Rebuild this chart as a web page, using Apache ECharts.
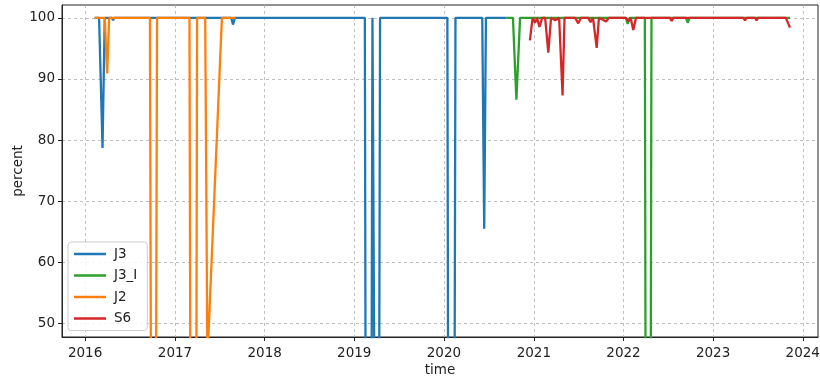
<!DOCTYPE html>
<html>
<head>
<meta charset="utf-8">
<script src="https://cdn.jsdelivr.net/npm/echarts@6/dist/echarts.min.js"></script>
<style>
html,body{margin:0;padding:0;background:#fff;}
#chart{width:820px;height:378px;}
</style>
</head>
<body>
<div id="chart"></div>
<script>
// ---- data ----
const seriesNames = ["J3", "J3_I", "J2", "S6"];

const j3Dates = ["2016-02-09","2016-02-27","2016-03-12","2016-03-21","2016-04-19","2016-04-24","2016-04-29",
  "2017-08-18","2017-08-25","2017-09-02",
  "2019-02-13","2019-02-18","2019-03-10","2019-03-16","2019-03-23","2019-03-29","2019-04-10","2019-04-16",
  "2020-01-15","2020-01-20","2020-02-11","2020-02-17",
  "2020-06-05","2020-06-13","2020-06-20","2020-09-12"];
const j3Values = [100,100,78.7,100,100,99.6,100,
  100,98.9,100,
  100,0,0,100,100,0,0,100,
  100,0,0,100,
  100,65.5,100,100];

const j3iDates = ["2020-09-12","2020-10-08","2020-10-22","2020-11-06",
  "2022-01-11","2022-01-18","2022-01-26",
  "2022-03-29","2022-04-03","2022-04-20","2022-04-25",
  "2022-09-12","2022-09-20","2022-09-27","2023-11-10"];
const j3iValues = [100,100,86.6,100,
  100,99.0,100,
  100,0,0,100,
  100,99.2,100,100];

const j2Dates = ["2016-02-09","2016-03-21","2016-03-31","2016-04-08",
  "2016-09-21","2016-09-28","2016-10-13","2016-10-20",
  "2017-03-01","2017-03-07","2017-03-27","2017-04-01",
  "2017-05-04","2017-05-13","2017-07-11","2017-09-05"];
const j2Values = [100,100,90.9,100,
  100,0,0,100,
  100,0,0,100,
  100,44,100,100];

const s6Dates = ["2020-12-16","2020-12-27","2021-01-06","2021-01-14","2021-01-24","2021-02-04",
  "2021-02-16","2021-03-01","2021-03-12","2021-03-29","2021-04-14","2021-04-20","2021-04-28","2021-05-06",
  "2021-06-18","2021-07-01","2021-07-12","2021-08-10","2021-08-20","2021-08-30","2021-09-05","2021-09-14",
  "2021-09-23","2021-10-22","2021-11-03","2022-01-11","2022-01-21","2022-01-30","2022-02-10","2022-02-21",
  "2022-07-09","2022-07-16","2022-07-23","2022-11-14","2022-11-21","2022-11-28",
  "2023-05-04","2023-05-11","2023-05-17","2023-06-21","2023-06-27","2023-07-03","2023-10-24","2023-11-10"];
const s6Values = [96.3,100,99.2,100,98.5,100,
  100,94.3,100,99.6,100,100,87.3,100,
  100,99.1,100,100,99.3,100,100,95.1,
  100,99.4,100,100,99.4,100,98.0,100,
  100,99.5,100,100,99.7,100,
  100,99.6,100,100,99.6,100,100,98.4];

const xTickLabels = ["2016","2017","2018","2019","2020","2021","2022","2023","2024"];
const yTickValues = [50,60,70,80,90,100];

const colors = ["#1f77b4","#2ca02c","#ff7f0e","#d62728"];
const xMin = "2015-09-29", xMax = "2024-03-03";
const yMin = 47.8, yMax = 102.1;

// ---- build ----
function ts(s){ return new Date(s + "T00:00:00Z").getTime(); }
function pairs(d, v){ return d.map((x,i)=>[ts(x), v[i]]); }
const allData = [pairs(j3Dates,j3Values), pairs(j3iDates,j3iValues), pairs(j2Dates,j2Values), pairs(s6Dates,s6Values)];
const xTickValues = xTickLabels.map(y => ts(y + "-01-01"));

const font = "DejaVu Sans";
const chart = echarts.init(document.getElementById('chart'), null, {renderer:'canvas'});
chart.setOption({
  animation:false,
  backgroundColor:'#fff',
  grid:{left:62, right:2, top:5, bottom:41, show:true, borderColor:'#222', borderWidth:1,
        containLabel:false, outerBoundsMode:'none'},
  legend:{
    orient:'vertical', left:68, top:242,
    data:seriesNames,
    icon:'rect', itemWidth:32, itemHeight:2.5, itemGap:7.5,
    padding:[5,10,5,6],
    backgroundColor:'rgba(255,255,255,0.85)', borderColor:'#cccccc', borderWidth:1, borderRadius:3,
    textStyle:{fontFamily:font, fontSize:13.5, color:'#222', padding:[0,0,0,3]}
  },
  xAxis:{
    type:'value', min:ts(xMin), max:ts(xMax),
    name:'time', nameLocation:'middle', nameGap:26, nameMoveOverlap:false,
    nameTextStyle:{fontFamily:font, fontSize:13.5, color:'#222'},
    axisLine:{onZero:false, lineStyle:{color:'#222', width:1}},
    axisTick:{show:true, length:4, inside:false, customValues:xTickValues, lineStyle:{color:'#222'}},
    axisLabel:{customValues:xTickValues, fontFamily:font, fontSize:13.5, color:'#222', margin:9,
      formatter:function(v){ return String(new Date(v).getUTCFullYear()); }},
    splitLine:{show:true, lineStyle:{color:'#b0b0b0', type:[3,3], width:0.8}}
  },
  yAxis:{
    type:'value', min:yMin, max:yMax,
    name:'percent', nameLocation:'middle', nameGap:37, nameRotate:90, nameMoveOverlap:false,
    nameTextStyle:{fontFamily:font, fontSize:13.5, color:'#222'},
    axisLine:{show:true, lineStyle:{color:'#222', width:1}},
    axisTick:{show:true, length:4, customValues:yTickValues, lineStyle:{color:'#222'}},
    axisLabel:{customValues:yTickValues, fontFamily:font, fontSize:13.5, color:'#222', margin:7},
    splitLine:{show:true, lineStyle:{color:'#b0b0b0', type:[3,3], width:0.8}}
  },
  series: seriesNames.map((n,i)=>({
    name:n, type:'line', data:allData[i], symbol:'none', showSymbol:false,
    clip:true, color:colors[i],
    lineStyle:{width:2.3, color:colors[i]}, z:2+i
  }))
});
</script>
</body>
</html>
